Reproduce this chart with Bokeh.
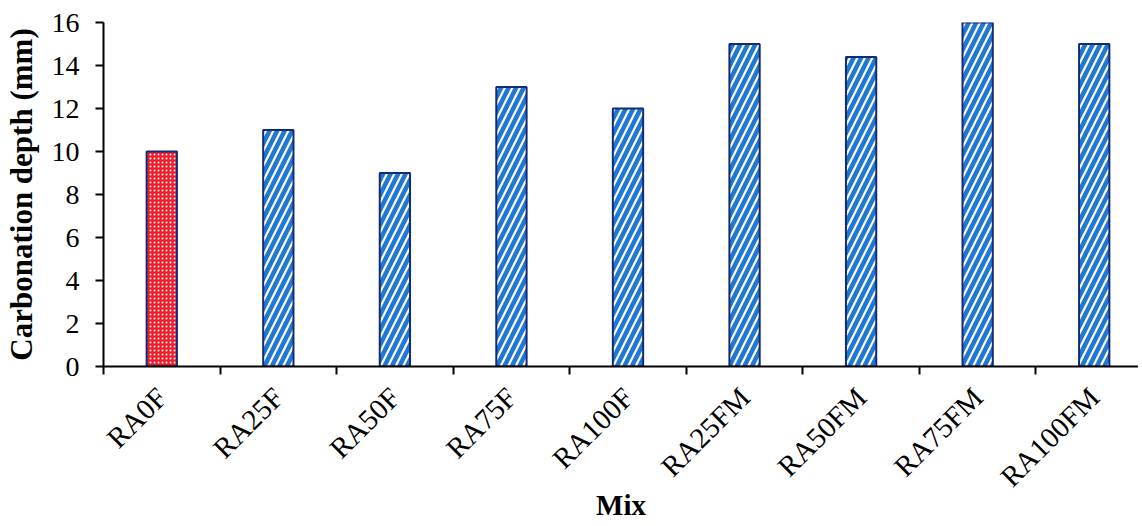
import numpy as np
from bokeh.plotting import figure
from bokeh.models import ColumnDataSource, FixedTicker, Range1d
from bokeh.embed import file_html
from bokeh.resources import INLINE

mixes = ["RA0F", "RA25F", "RA50F", "RA75F", "RA100F", "RA25FM", "RA50FM", "RA75FM", "RA100FM"]
depth = [10, 11, 9, 13, 12, 15, 14.4, 16, 15]
y_ticks = [0, 2, 4, 6, 8, 10, 12, 14, 16]

n = len(mixes)
centers = list(np.arange(n) + 0.5)

p = figure(width=1138, height=524, output_backend="svg", toolbar_location=None,
           x_range=Range1d(0, 8.88), y_range=Range1d(0, 16),
           min_border_left=102, min_border_top=22, min_border_right=0, min_border_bottom=158)
p.outline_line_color = None
p.xgrid.grid_line_color = None
p.ygrid.grid_line_color = None

ref = ColumnDataSource(dict(x=centers[:1], top=depth[:1]))
rest = ColumnDataSource(dict(x=centers[1:], top=depth[1:]))

p.vbar(x="x", top="top", bottom=0, width=0.26, source=ref,
       fill_color="#f01c28", line_color="#132a78", line_width=2,
       hatch_pattern="dot", hatch_color="white", hatch_scale=4, hatch_weight=2)
p.vbar(x="x", top="top", bottom=0, width=0.26, source=rest,
       fill_color="white", line_color="#132a78", line_width=2,
       hatch_pattern="right_diagonal_line", hatch_color="#1f78d2", hatch_scale=15, hatch_weight=4.5)

font = "Liberation Serif"
xa = p.xaxis[0]
xa.ticker = FixedTicker(ticks=centers, minor_ticks=list(range(n + 1)))
xa.major_label_overrides = {c: m for c, m in zip(centers, mixes)}
xa.major_tick_out = 0
xa.major_tick_in = 0
xa.minor_tick_out = 8
xa.minor_tick_in = 0
xa.minor_tick_line_color = "black"
xa.minor_tick_line_width = 2
xa.major_label_orientation = np.pi / 4
xa.major_label_standoff = 18
xa.major_label_text_font = font
xa.major_label_text_font_size = "29px"
xa.major_label_text_color = "black"
xa.axis_line_width = 2
xa.axis_line_color = "black"
xa.axis_label = "Mix"
xa.axis_label_text_font = font
xa.axis_label_text_font_size = "29px"
xa.axis_label_text_font_style = "bold"
xa.axis_label_text_color = "black"
xa.axis_label_standoff = -18

ya = p.yaxis[0]
ya.ticker = FixedTicker(ticks=y_ticks)
ya.minor_tick_line_color = None
ya.major_tick_out = 8
ya.major_tick_in = 0
ya.major_tick_line_width = 2
ya.major_tick_line_color = "black"
ya.major_label_standoff = 16
ya.major_label_text_font = font
ya.major_label_text_font_size = "28px"
ya.major_label_text_color = "black"
ya.axis_line_width = 2
ya.axis_line_color = "black"
ya.axis_label = "Carbonation depth (mm)"
ya.axis_label_text_font = font
ya.axis_label_text_font_size = "31px"
ya.axis_label_text_font_style = "bold"
ya.axis_label_text_color = "black"
ya.axis_label_standoff = 10

open("out.html", "w").write(file_html(p, INLINE))
